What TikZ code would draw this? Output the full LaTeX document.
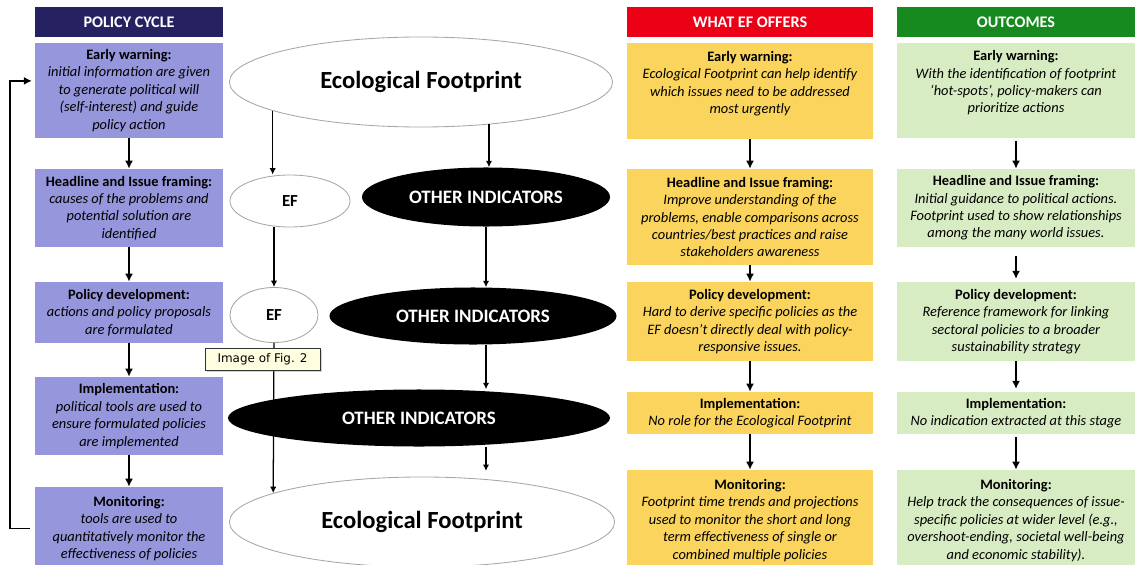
\documentclass[tikz,border=0pt]{standalone}
\usepackage{fontspec}
\setmainfont{Carlito}
\newfontfamily\tipfont{DejaVu Sans}
\usepackage{xcolor}
\usepackage{tikz}
\usetikzlibrary{positioning,arrows.meta,calc,shapes.geometric,shadows}

\definecolor{cycnavy}{RGB}{38,34,98}
\definecolor{cyclav}{RGB}{150,150,220}
\definecolor{efred}{RGB}{236,0,22}
\definecolor{efgold}{RGB}{250,212,92}
\definecolor{ocgreen}{RGB}{22,138,30}
\definecolor{ocmint}{RGB}{216,236,196}

\begin{document}
\begin{tikzpicture}[x=0.025cm, y=-0.025cm,
  box/.style={align=center, inner sep=0pt, font=\fontsize{10.25}{12.4}\selectfont\itshape},
  head/.style={box, font=\fontsize{11.5}{13}\selectfont\bfseries, text=white, minimum height=0.75cm},
  cyc/.style={box, fill=cyclav, minimum width=4.7cm},
  offer/.style={box, fill=efgold, minimum width=6.15cm},
  outc/.style={box, fill=ocmint, minimum width=5.95cm},
  bub/.style={ellipse, draw=gray!70, semithick, fill=white, inner sep=0pt, font=\fontsize{12}{14}\selectfont\bfseries},
  big/.style={bub, font=\fontsize{17.5}{20}\selectfont\bfseries, minimum width=9.575cm, minimum height=2.25cm},
  dark/.style={ellipse, fill=black, text=white, inner sep=0pt, font=\fontsize{13.5}{15}\selectfont\bfseries},
  arr/.style={-{Latex[length=2mm, width=2mm]}, line width=1.2pt},
  lin/.style={-{Latex[length=1.6mm, width=1.6mm]}, line width=0.9pt},
  tooltip/.style={draw=black!80, fill=yellow!12, inner sep=2pt, minimum width=2.875cm, minimum height=0.55cm,
    font=\tipfont\fontsize{8.5}{10}\selectfont, drop shadow={shadow xshift=1.5pt, shadow yshift=-1.5pt, opacity=0.35}}]
\useasboundingbox (0,0) rectangle (1138,565);

% policy cycle
\node[head, fill=cycnavy, minimum width=4.7cm] (ph) at (129,22) {POLICY CYCLE};
\node[cyc, minimum height=2.375cm] (p1) at (129,90.5) {\textbf{\textup{Early warning:}}\\ initial information are given\\ to generate political will\\ (self-interest) and guide\\ policy action};
\node[cyc, minimum height=1.95cm] (p2) at (129,208) {\textbf{\textup{Headline and Issue framing:}}\\ causes of the problems and\\ potential solution are\\ identified};
\node[cyc, minimum height=1.525cm] (p3) at (129,312.5) {\textbf{\textup{Policy development:}}\\ actions and policy proposals\\ are formulated};
\node[cyc, minimum height=1.95cm] (p4) at (129,416) {\textbf{\textup{Implementation:}}\\ political tools are used to\\ ensure formulated policies\\ are implemented};
\node[cyc, minimum height=2.075cm] (p5) at (129,528.5) {\textbf{\textup{Monitoring:}}\\ tools are used to\\ quantitatively monitor the\\ effectiveness of policies};

% what EF offers
\node[head, fill=efred, minimum width=6.15cm] (oh) at (750,22) {WHAT EF OFFERS};
\node[offer, minimum height=2.4cm] (o1) at (750,91) {\textbf{\textup{Early warning:}}\\ Ecological Footprint can help identify\\ which issues need to be addressed\\ most urgently\\};
\node[offer, minimum height=2.4cm] (o2) at (750,217) {\textbf{\textup{Headline and Issue framing:}}\\ Improve understanding of the\\ problems, enable comparisons across\\ countries/best practices and raise\\ stakeholders awareness};
\node[offer, minimum height=1.975cm] (o3) at (750,321.5) {\textbf{\textup{Policy development:}}\\ Hard to derive specific policies as the\\ EF doesn’t directly deal with policy-\\ responsive issues.};
\node[offer, minimum height=1.05cm] (o4) at (750,413) {\textbf{\textup{Implementation:}}\\ No role for the Ecological Footprint};
\node[offer, minimum height=2.525cm] (o5) at (750,520.5) {\textbf{\textup{Monitoring:}}\\ Footprint time trends and projections\\ used to monitor the short and long\\ term effectiveness of single or\\ combined multiple policies};

% outcomes
\node[head, fill=ocgreen, minimum width=5.95cm] (uh) at (1016,22) {OUTCOMES};
\node[outc, minimum height=2.375cm] (u1) at (1016,90.5) {\textbf{\textup{Early warning:}}\\ With the identification of footprint\\ ‘hot-spots’, policy-makers can\\ prioritize actions\\};
\node[outc, minimum height=1.95cm] (u2) at (1016,208) {\textbf{\textup{Headline and Issue framing:}}\\ Initial guidance to political actions.\\ Footprint used to show relationships\\ among the many world issues.};
\node[outc, minimum height=1.975cm] (u3) at (1016,321.5) {\textbf{\textup{Policy development:}}\\ Reference framework for linking\\ sectoral policies to a broader\\ sustainability strategy};
\node[outc, minimum height=1.05cm] (u4) at (1016,413) {\textbf{\textup{Implementation:}}\\ No indication extracted at this stage};
\node[outc, minimum height=2.525cm] (u5) at (1016,520.5) {\textbf{\textup{Monitoring:}}\\ Help track the consequences of issue-\\ specific policies at wider level (e.g.,\\ overshoot-ending, societal well-being\\ and economic stability).};

% indicators
\node[big] (eftop) at (421,82) {Ecological Footprint};
\node[bub, minimum width=3cm, minimum height=1.3cm] (ef1) at (290,201) {EF};
\node[dark, minimum width=6.2cm, minimum height=1.475cm] (oi1) at (486,197) {OTHER INDICATORS};
\node[bub, minimum width=2.2cm, minimum height=1.375cm] (ef2) at (274,315) {EF};
\node[dark, minimum width=7.175cm, minimum height=1.425cm] (oi2) at (473,316) {OTHER INDICATORS};
\node[dark, minimum width=9.55cm, minimum height=1.425cm] (oi3) at (419,418) {OTHER INDICATORS};
\node[big, minimum width=9.625cm] (efbot) at (422,522) {Ecological Footprint};

\draw[arr] (p1) -- (p2);
\draw[arr] (p2) -- (p3);
\draw[arr] (p3) -- (p4);
\draw[arr] (p4) -- (p5);
\draw[arr, shorten <=3.5pt, shorten >=2pt] ([yshift=0.0cm]p5.west) -- ++(-25,0) |- ([yshift=0.24cm]p1.west);
\draw[arr] (o1) -- (o2);
\draw[arr] (o2) -- (o3);
\draw[arr] (o3) -- (o4);
\draw[arr] (o4) -- (o5);
\draw[arr, shorten <=2pt] (u1) -- (u2);
\draw[arr, shorten <=6pt, shorten >=2pt] (u2) -- (u3);
\draw[arr, shorten >=2pt] (u3) -- (u4);
\draw[arr, shorten <=2pt] (u4) -- (u5);

\draw[lin] (eftop.191) -- (eftop.191 |- ef1.north);
\draw[lin] (eftop.328) -- (eftop.328 |- oi1.north);
\draw[lin] (ef2.north |- ef1.south) -- (ef2.north);
\draw[lin] (oi1.south) -- (oi1.south |- oi2.north);
\draw[lin] (oi1.south |- oi2.south) -- (oi1.south |- oi3.north);
\draw[lin, shorten >=4pt] (oi1.south |- oi3.south) -- (oi1.south |- efbot.north);
\draw[lin] (ef2.south) -- (efbot.169);

\node[tooltip] (fig) at (262.5,359) {Image of Fig. 2};
\end{tikzpicture}
\end{document}
